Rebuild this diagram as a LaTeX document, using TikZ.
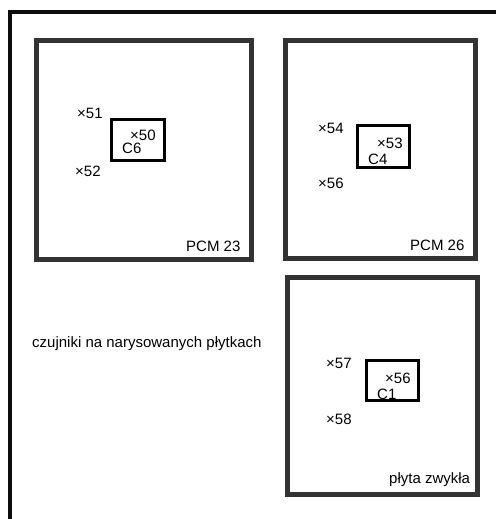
\documentclass[tikz,border=0pt]{standalone}
\usepackage{fontspec}
\setmainfont{Liberation Sans}
\begin{document}
\begin{tikzpicture}[x=1pt,y=-1pt,
  frame/.style={line width=4.5pt,color=black!95},
  plate/.style={line width=5pt,color=black!80},
  sensorbox/.style={line width=3pt,color=black},
  lbl/.style={anchor=base west,inner sep=0pt,font=\fontsize{15}{17}\selectfont}
]
\useasboundingbox (0,0) rectangle (496,519);
% outer frame
\draw[frame] (9.8,519) -- (9.8,11.8) -- (496,11.8);
% plates
\draw[plate] (36.5,40.5) rectangle (251.5,259.5);
\draw[plate] (285,40.5) rectangle (475,258);
\draw[plate] (287,277.5) rectangle (477.5,494.5);
% boxes with sensors C6, C4, C1
\draw[sensorbox] (111.5,119.5) rectangle (164.5,160.5);
\draw[sensorbox] (357.5,125.5) rectangle (409.5,167.5);
\draw[sensorbox] (366,360) rectangle (418.5,400);
% PCM 23
\node[lbl] (t51) at (77,118.5) {×51};
\node[lbl] (t52) at (75,176.5) {×52};
\node[lbl] (t50) at (130,140) {×50};
\node[lbl] (c6) at (122,153) {C6};
\node[lbl] (pcm23) at (186,251.5) {PCM 23};
% PCM 26
\node[lbl] (t54) at (318,133) {×54};
\node[lbl] (t56a) at (318,188) {×56};
\node[lbl] (t53) at (377,148) {×53};
\node[lbl] (c4) at (368,164) {C4};
\node[lbl] (pcm26) at (410,250.5) {PCM 26};
% plyta zwykla
\node[lbl] (t57) at (326,368) {×57};
\node[lbl] (t58) at (326,424) {×58};
\node[lbl] (t56b) at (385,383) {×56};
\node[lbl] (c1) at (377,399) {C1};
\node[lbl] (plyta) at (389,483) {płyta zwykła};
\node[lbl] (opis) at (32,347) {czujniki na narysowanych płytkach};
\end{tikzpicture}
\end{document}
